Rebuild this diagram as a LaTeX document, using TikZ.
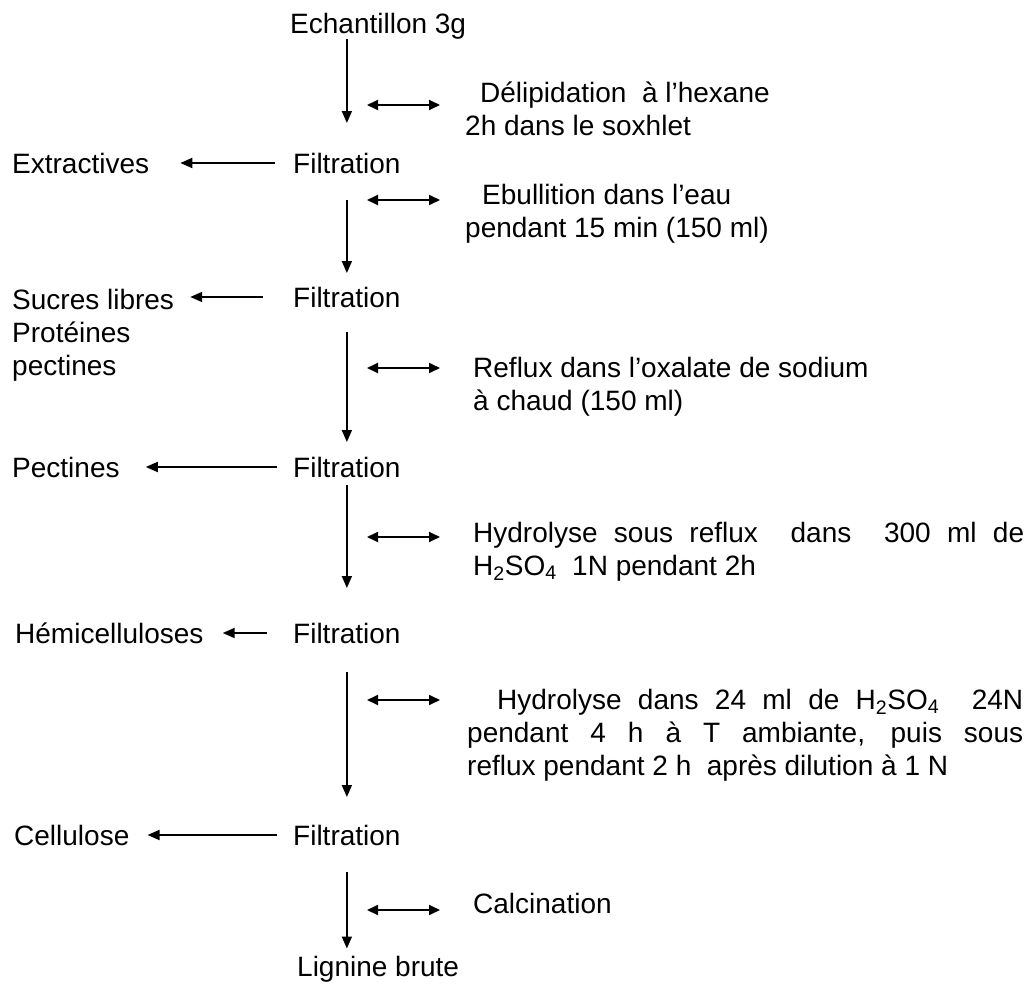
\documentclass[tikz,border=0pt]{standalone}
\usepackage{fontspec}
\setmainfont{Liberation Sans}
\usetikzlibrary{arrows.meta}
\begin{document}
\begin{tikzpicture}[x=1pt,y=-1pt,
  txt/.style={font=\fontsize{28}{33}\selectfont, inner sep=0pt, anchor=base west, align=left},
  arr/.style={line width=1.8pt, -{Triangle[length=12pt,width=10pt]}},
  dbl/.style={line width=1.8pt, {Triangle[length=11pt,width=10pt]}-{Triangle[length=11pt,width=10pt]}}]
\useasboundingbox[fill=white] (0,0) rectangle (1036,985);

% main column
\node[txt] (ech) at (290,33) {Echantillon 3g};
\node[txt] (f1) at (293,173) {Filtration};
\node[txt] (f2) at (293,307) {Filtration};
\node[txt] (f3) at (293,477) {Filtration};
\node[txt] (f4) at (293,643) {Filtration};
\node[txt] (f5) at (293,845) {Filtration};
\node[txt] (lig) at (297,976) {Lignine brute};

% left products
\node[txt] (ext) at (12,173) {Extractives};
\node[txt] (suc) at (12,375) {Sucres libres\\Protéines\\pectines};
\node[txt] (pec) at (12,477) {Pectines};
\node[txt] (hem) at (15,643) {Hémicelluloses};
\node[txt] (cel) at (14,845) {Cellulose};

% right conditions (base = last line baseline)
\node[txt] (c1) at (465,135) {\hspace*{15pt}Délipidation\ \ à l’hexane\\2h dans le soxhlet};
\node[txt] (c2) at (465,237) {\hspace*{17pt}Ebullition dans l’eau\\pendant 15 min (150 ml)};
\node[txt] (c3) at (473,410) {Reflux dans l’oxalate de sodium\\à chaud (150 ml)};
\node[txt] (c4) at (473,575) {\makebox[551pt][s]{Hydrolyse sous reflux\ \ dans\ \ 300 ml de}\\H\textsubscript{2}SO\textsubscript{4}\ \ 1N pendant 2h};
\node[txt] (c5) at (467,775) {\hspace*{30pt}\makebox[526pt][s]{Hydrolyse dans 24 ml de H\textsubscript{2}SO\textsubscript{4}\ \ 24N}\\\makebox[556pt][s]{pendant 4 h à T ambiante, puis sous}\\reflux pendant 2 h\ \ après dilution à 1 N};
\node[txt] (c6) at (473,913) {Calcination};

% vertical arrows
\draw[arr] (ech.south -| f1.north) -- ([yshift=29.5pt]f1.north);
\draw[arr] ([yshift=-27pt]f1.south) -- ([yshift=13.5pt]f2.north);
\draw[arr] ([yshift=-25pt]f2.south) -- ([yshift=14.5pt]f3.north);
\draw[arr] ([yshift=-8pt]f3.south) -- ([yshift=34.5pt]f4.north);
\draw[arr] ([yshift=-29pt]f4.south) -- ([yshift=27.5pt]f5.north);
\draw[arr] ([yshift=-27pt]f5.south) -- ([yshift=7pt]lig.north -| f5.north);

% horizontal arrows to products
\draw[arr] ([xshift=-18pt]f1.west) -- ([xshift=31pt]ext.east |- f1.west);
\draw[arr] ([xshift=-30pt]f2.west) -- ([xshift=16pt]suc.east |- f2.west);
\draw[arr] ([xshift=-16pt]f3.west) -- ([xshift=26pt]pec.east |- f3.west);
\draw[arr] ([xshift=-26pt]f4.west) -- ([xshift=19pt]hem.east |- f4.west);
\draw[arr] ([xshift=-16pt]f5.west) -- ([xshift=18pt]cel.east |- f5.west);

% double arrows
\coordinate (d1a) at (367,105); \coordinate (d1b) at (440,105);
\coordinate (d2a) at (367,200); \coordinate (d2b) at (440,200);
\coordinate (d3a) at (367,368); \coordinate (d3b) at (440,368);
\coordinate (d4a) at (367,537); \coordinate (d4b) at (440,537);
\coordinate (d5a) at (367,700); \coordinate (d5b) at (440,700);
\coordinate (d6a) at (367,910); \coordinate (d6b) at (440,910);
\draw[dbl] (d1a) -- (d1b);
\draw[dbl] (d2a) -- (d2b);
\draw[dbl] (d3a) -- (d3b);
\draw[dbl] (d4a) -- (d4b);
\draw[dbl] (d5a) -- (d5b);
\draw[dbl] (d6a) -- (d6b);
\end{tikzpicture}
\end{document}
